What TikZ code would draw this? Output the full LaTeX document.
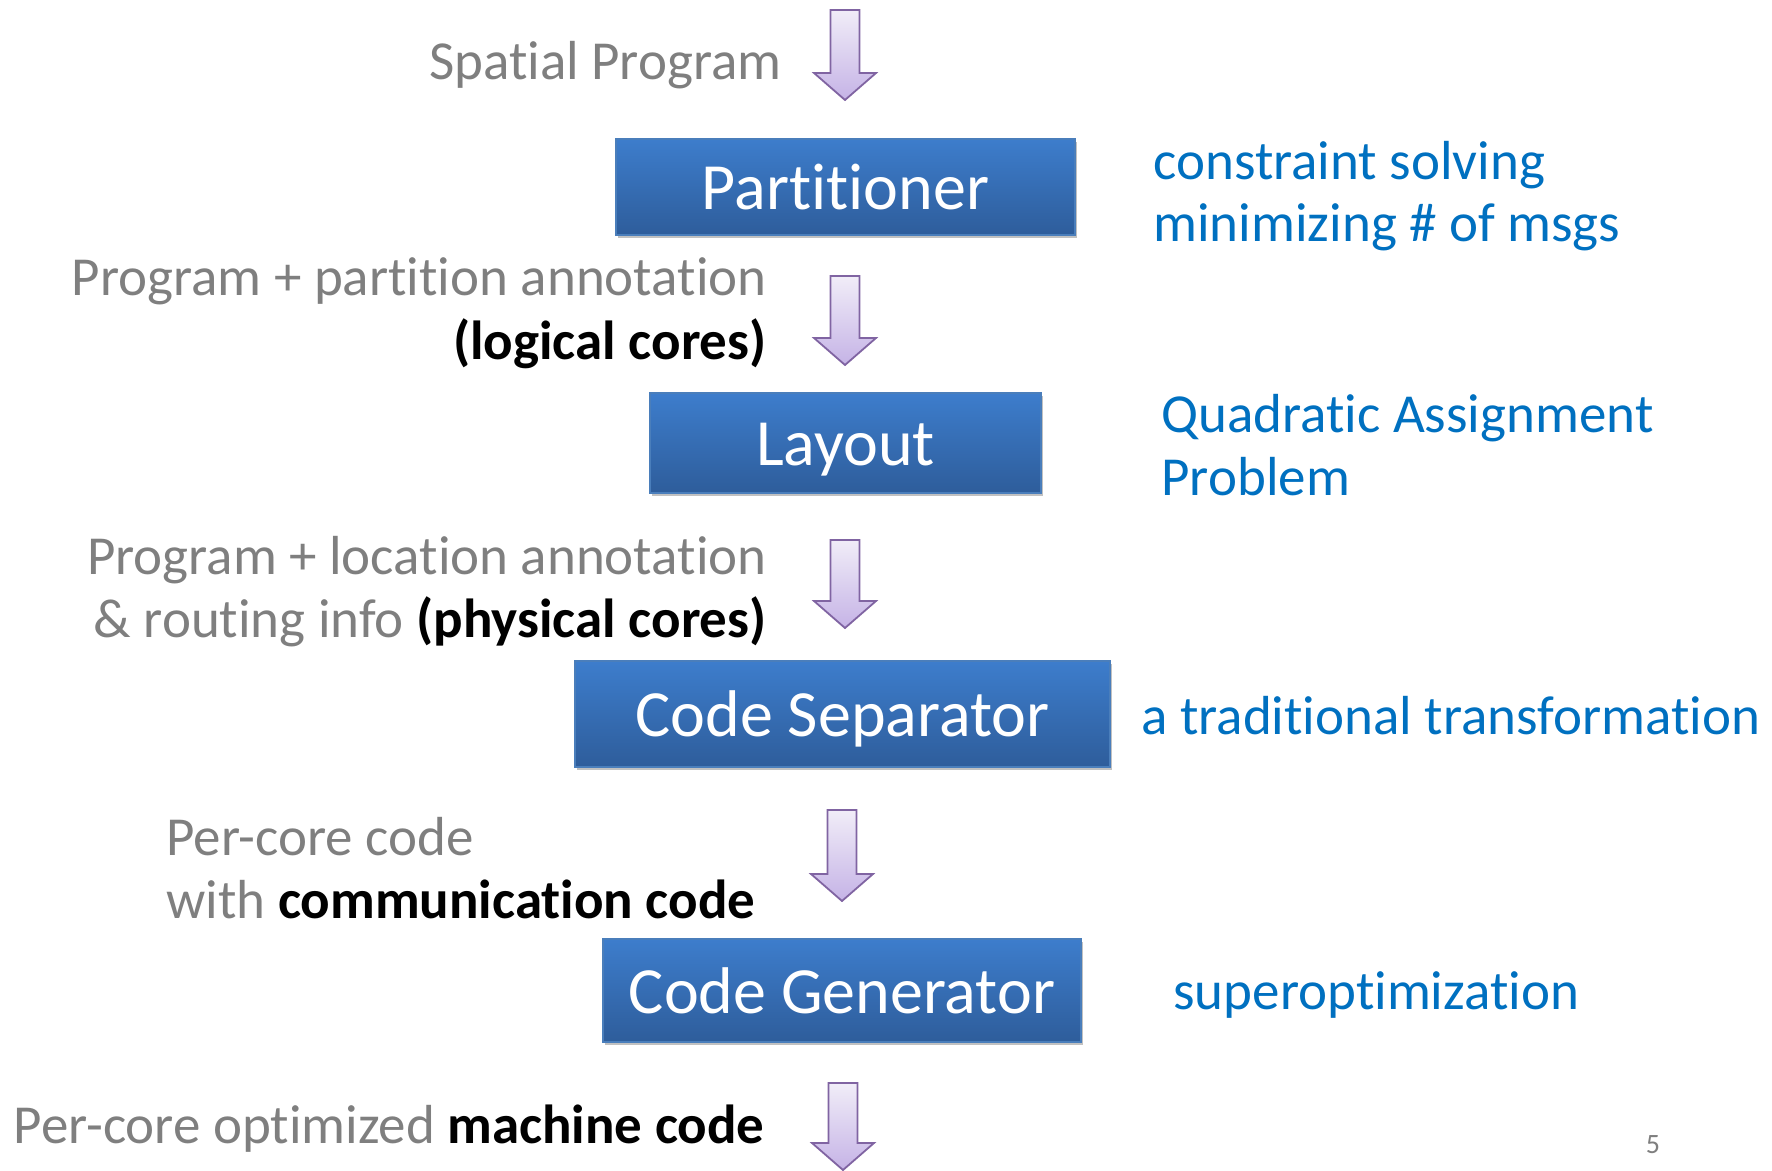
\documentclass[tikz,border=0pt]{standalone}
\usepackage{fontspec}
\setmainfont{Carlito}[Ligatures={NoCommon}]
\usetikzlibrary{shadows}

\definecolor{greytext}{HTML}{7F7F7F}
\definecolor{notetext}{HTML}{0070C0}
\definecolor{boxtop}{HTML}{3D7DCC}
\definecolor{boxbottom}{HTML}{2E5D9B}
\definecolor{boxedge}{HTML}{4A7EBB}
\definecolor{arrowtop}{HTML}{F1EDF8}
\definecolor{arrowbottom}{HTML}{C5B3E6}
\definecolor{arrowedge}{HTML}{8064A2}

\tikzset{
  stagebox/.style={rectangle, draw=boxedge, line width=0.6pt,
    top color=boxtop, bottom color=boxbottom, text=white, inner sep=0pt,
    font=\fontsize{33}{40}\selectfont, text height=26pt, text depth=3.4pt,
    drop shadow={shadow xshift=1.2pt, shadow yshift=-1.6pt, opacity=0.35, fill=black!70}},
  datatext/.style={text=greytext, inner sep=0pt, align=right,
    font=\fontsize{27.5}{31}\selectfont},
  notetext/.style={text=notetext, inner sep=0pt, align=left,
    font=\fontsize{27.5}{31}\selectfont},
  flowarrow/.style={draw=arrowedge, line width=0.9pt, line join=miter,
    top color=arrowtop, bottom color=arrowbottom},
}

% hollow block arrow pointing down: centre x, top y, tip y
\newcommand\blockdown[3]{%
  \path[flowarrow] (#1-14.5,#2) -- (#1+14.5,#2) -- (#1+14.5,#3-27)
    -- (#1+31,#3-27) -- (#1,#3) -- (#1-31,#3-27) -- (#1-14.5,#3-27) -- cycle;}

\begin{document}
\begin{tikzpicture}[x=0.5pt,y=-0.5pt]
\useasboundingbox (0,0) rectangle (1772,1171);

% stages
\node[stagebox, minimum width=229.5pt, minimum height=48pt]  (part) at (845.5,187)  {Partitioner};
\node[stagebox, minimum width=195.5pt, minimum height=50pt]  (lay)  at (845.5,443)  {Layout};
\node[stagebox, minimum width=267.5pt, minimum height=53pt]  (sep)  at (842.5,714)  {Code Separator};
\node[stagebox, minimum width=239pt,   minimum height=51.5pt] (gen) at (842,990.5)  {Code Generator};

% flow arrows
\blockdown{845}{10}{100}
\blockdown{845}{276}{365}
\blockdown{845}{540}{628}
\blockdown{842}{810}{901}
\blockdown{843}{1083}{1170}

% data passed between stages
\node[datatext, anchor=base east] (d0) at (782,80) {Spatial Program};
\node[datatext, anchor=base east] (d1a) at (767,296) {Program + partition annotation};
\node[datatext, anchor=base east] (d1b) at (767,360) {\textcolor{black}{\bfseries (logical cores)}};
\node[datatext, anchor=base east] (d2a) at (767,574) {Program + location annotation};
\node[datatext, anchor=base east] (d2b) at (767,637) {\& routing info \textcolor{black}{\bfseries (physical cores)}};
\node[datatext, anchor=base west] (d3a) at (166,855) {Per-core code};
\node[datatext, anchor=base west] (d3b) at (166,918) {with \textcolor{black}{\bfseries communication code}};
\node[datatext, anchor=base east] (d4) at (765,1143) {Per-core optimized \textcolor{black}{\bfseries machine code}};

% techniques used by each stage
\node[notetext, anchor=base west] (n1a) at (1153,180) {constraint solving};
\node[notetext, anchor=base west] (n1b) at (1153,242) {minimizing \# of msgs};
\node[notetext, anchor=base west] (n2a) at (1161,433) {Quadratic Assignment};
\node[notetext, anchor=base west] (n2b) at (1161,495) {Problem};
\node[notetext, anchor=base west] (n3) at (1141,734) {a traditional transformation};
\node[notetext, anchor=base west] (n4) at (1173,1009) {superoptimization};

% slide number
\node[text=greytext, inner sep=0pt, anchor=base, font=\fontsize{14}{16}\selectfont] (pg) at (1653,1153) {5};
\end{tikzpicture}
\end{document}
